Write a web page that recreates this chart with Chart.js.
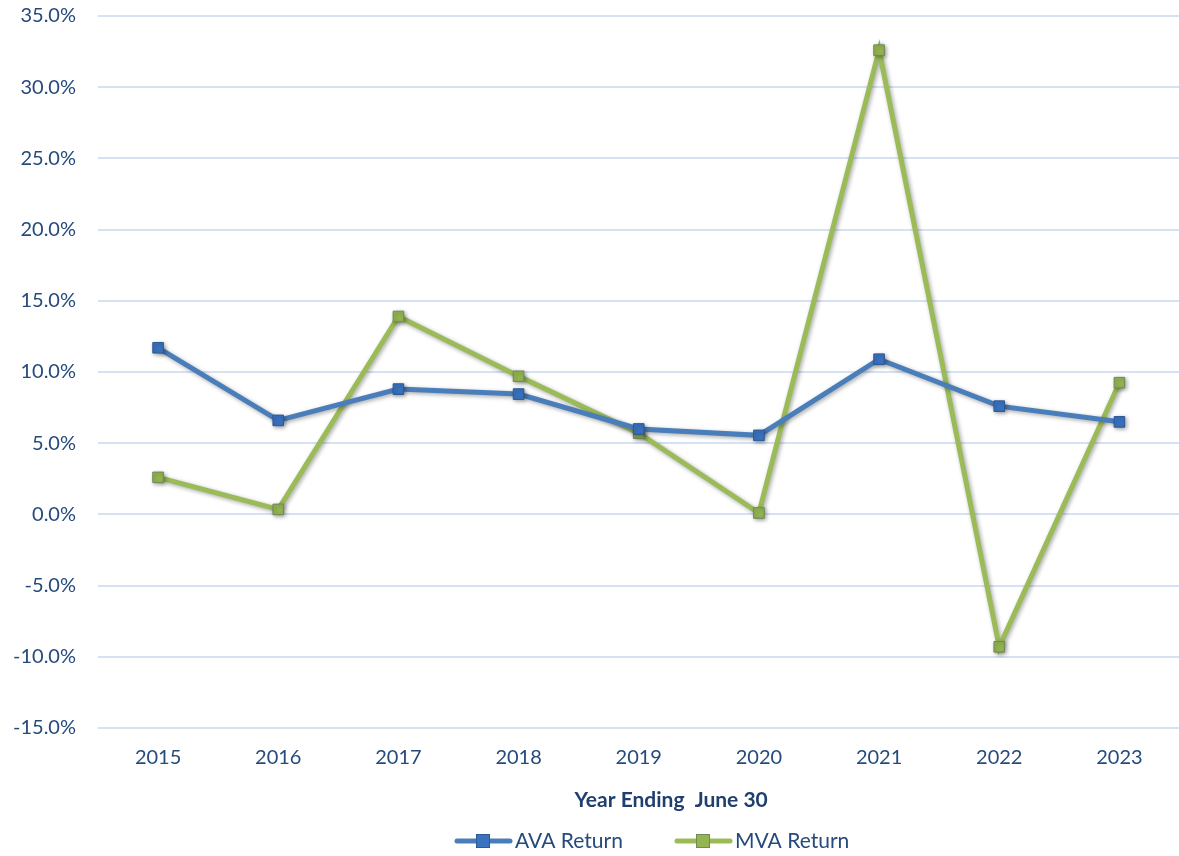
<!DOCTYPE html>
<html><head><meta charset="utf-8">
<script src="https://cdn.jsdelivr.net/npm/chart.js@4"></script>
<style>html,body{margin:0;padding:0;background:#fff;}#wrap{position:relative;width:1179px;height:856px;overflow:hidden;}#c{position:absolute;left:0;top:-18px;}</style>
</head><body><div id="wrap"><canvas id="c" width="1188" height="896"></canvas></div>
<script>
const years = ['2015','2016','2017','2018','2019','2020','2021','2022','2023'];
const avaReturn = [11.7, 6.6, 8.8, 8.45, 6.0, 5.55, 10.9, 7.6, 6.5];
const mvaReturn = [2.6, 0.35, 13.9, 9.7, 5.7, 0.1, 32.6, -9.3, 9.25];
const yMin = -15, yMax = 35, yStep = 5;
const xTitle = 'Year Ending  June 30';

const textColor = '#254a7c';
const FONT = 'Lato, "Noto Sans", sans-serif';

const legendStyles = [
  { line:'#4a7ebb', fill:'#3a72c0', border:'#2c5a94' },
  { line:'#9bbb59', fill:'#93b650', border:'#72875a' }
];

const shadowPlugin = {
  id:'shadow',
  beforeDatasetDraw(chart){ const c=chart.ctx; c.save(); c.shadowColor='rgba(0,0,0,0.35)'; c.shadowBlur=4; c.shadowOffsetX=1.5; c.shadowOffsetY=1.5; },
  afterDatasetDraw(chart){ chart.ctx.restore(); }
};

const legendPlugin = {
  id:'customLegend',
  afterDraw(chart){
    const ctx = chart.ctx, area = chart.chartArea;
    ctx.save();
    // axis title
    ctx.font = 'bold 21px ' + FONT;
    ctx.fillStyle = '#1f3f6e'; ctx.textAlign = 'center'; ctx.textBaseline = 'middle';
    ctx.fillText(xTitle, area.left + (area.right - area.left) * 0.53, area.bottom + 72);
    // legend
    const y = area.bottom + 113;
    const starts = [457, 677];
    ctx.font = '21px ' + FONT;
    chart.data.datasets.forEach((d,i)=>{
      const s = legendStyles[i], x = starts[i];
      ctx.strokeStyle = s.line; ctx.lineWidth = 5; ctx.lineCap = 'round';
      ctx.beginPath(); ctx.moveTo(x, y); ctx.lineTo(x+53, y); ctx.stroke();
      ctx.fillStyle = s.fill; ctx.fillRect(x+19, y-7, 14, 14);
      ctx.strokeStyle = s.border; ctx.lineWidth = 1; ctx.strokeRect(x+19.5, y-6.5, 13, 13);
      ctx.fillStyle = textColor; ctx.textAlign = 'left';
      ctx.fillText(d.label, x + 58, y);
    });
    ctx.restore();
  }
};

new Chart(document.getElementById('c'), {
  type:'line',
  data:{ labels: years, datasets:[
    { label:'AVA Return', data: avaReturn, borderColor:legendStyles[0].line, borderWidth:5,
      pointStyle:'rect', pointRadius:7.5, pointBackgroundColor:legendStyles[0].fill, pointBorderColor:legendStyles[0].border, pointBorderWidth:1,
      tension:0, fill:false },
    { label:'MVA Return', data: mvaReturn, borderColor:legendStyles[1].line, borderWidth:5,
      pointStyle:'rect', pointRadius:7.5, pointBackgroundColor:legendStyles[1].fill, pointBorderColor:legendStyles[1].border, pointBorderWidth:1,
      tension:0, fill:false }
  ]},
  options:{
    responsive:false, animation:false, devicePixelRatio:1,
    layout:{ padding:{ top:0, right:0, left:0, bottom:90 } },
    plugins:{ legend:{ display:false }, tooltip:{ enabled:false } },
    scales:{
      x:{ offset:true, grid:{ display:false, drawTicks:false }, border:{ display:false },
        ticks:{ color:textColor, font:{ family:FONT, size:20 }, padding:18 },
        title:{ display:false } },
      y:{ min:yMin, max:yMax, grid:{ color:'#d6e2f3', lineWidth:2, drawTicks:false }, border:{ display:false },
        afterFit(s){ s.width = 98; },
        ticks:{ stepSize:yStep, color:textColor, font:{ family:FONT, size:20 }, padding:22,
          callback:v=>v.toFixed(1)+'%' } }
    }
  },
  plugins:[shadowPlugin, legendPlugin]
});
</script></body></html>
